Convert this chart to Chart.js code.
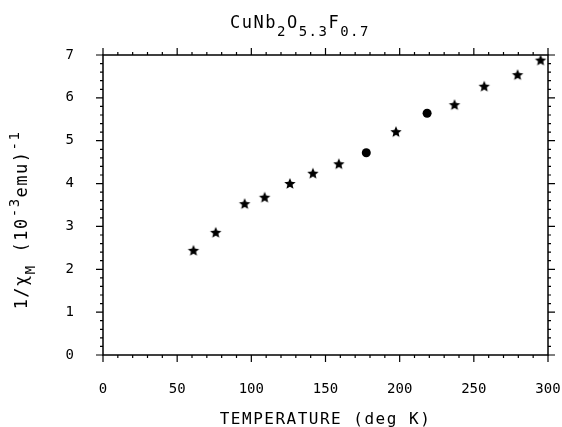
<!DOCTYPE html>
<html>
<head>
<meta charset="utf-8">
<script src="https://cdn.jsdelivr.net/npm/chart.js@4"></script>
<style>
  html, body { margin: 0; padding: 0; background: #fff; }
  canvas { display: block; }
</style>
</head>
<body>
<canvas id="myChart" width="562" height="427"></canvas>
<script>
// values
const temperature = [61, 76, 95.5, 109, 126, 141.5, 159, 177.5, 197.5, 218.5, 237, 257, 279.5, 295];
const invChi = [2.43, 2.85, 3.52, 3.67, 3.99, 4.23, 4.45, 4.72, 5.20, 5.64, 5.83, 6.26, 6.53, 6.87];
const markers = ['star', 'star', 'star', 'star', 'star', 'star', 'star', 'circle', 'star', 'circle', 'star', 'star', 'star', 'star'];
const xTicks = [0, 50, 100, 150, 200, 250, 300];
const yTicks = [0, 1, 2, 3, 4, 5, 6, 7];

const MONO = '"DejaVu Sans Mono", "Liberation Mono", monospace';

// filled five point star used as marker
function makeStar(r) {
  const c = document.createElement('canvas');
  c.width = c.height = r * 2 + 2;
  const g = c.getContext('2d');
  g.fillStyle = '#000';
  g.beginPath();
  for (let i = 0; i < 10; i++) {
    const rad = i % 2 === 0 ? r : r * 0.45;
    const a = -Math.PI / 2 + i * Math.PI / 5;
    const px = r + 1 + rad * Math.cos(a), py = r + 1 + rad * Math.sin(a);
    if (i === 0) g.moveTo(px, py); else g.lineTo(px, py);
  }
  g.closePath();
  g.fill();
  return c;
}
const star = makeStar(6);

// text made of normal / sub / sup pieces
function drawRich(g, parts, x, y, size, rotate) {
  g.save();
  g.translate(x, y);
  if (rotate) g.rotate(-Math.PI / 2);
  g.fillStyle = '#000';
  g.textBaseline = 'alphabetic';
  g.letterSpacing = '1.5px';
  let w = 0;
  parts.forEach(p => {
    g.font = (p[1] === 'n' ? size : Math.round(size * 0.8)) + 'px ' + MONO;
    w += g.measureText(p[0]).width;
  });
  let cx = -w / 2;
  parts.forEach(p => {
    g.font = (p[1] === 'n' ? size : Math.round(size * 0.8)) + 'px ' + MONO;
    const dy = p[1] === 'sub' ? size * 0.45 : p[1] === 'sup' ? -size * 0.45 : 0;
    g.textAlign = 'left';
    g.fillText(p[0], cx, dy);
    cx += g.measureText(p[0]).width;
  });
  g.restore();
}

const framePlugin = {
  id: 'frame',
  afterDraw(chart) {
    const g = chart.ctx;
    const a = chart.chartArea;
    const xs = chart.scales.x, ys = chart.scales.y;
    g.save();
    g.strokeStyle = '#000';
    g.lineWidth = 1.5;
    g.strokeRect(a.left, a.top, a.right - a.left, a.bottom - a.top);
    g.lineWidth = 1.2;
    g.beginPath();
    for (let v = 0; v <= 300; v += 10) {
      const px = xs.getPixelForValue(v);
      const len = v % 50 === 0 ? 7 : 3;
      g.moveTo(px, a.bottom); g.lineTo(px, a.bottom + len);
      g.moveTo(px, a.top); g.lineTo(px, a.top - len);
    }
    for (let i = 0; i <= 35; i++) {
      const py = ys.getPixelForValue(i / 5);
      const len = i % 5 === 0 ? 7 : 3;
      g.moveTo(a.left, py); g.lineTo(a.left - len, py);
      g.moveTo(a.right, py); g.lineTo(a.right + len, py);
    }
    g.stroke();
    g.restore();

    drawRich(g, [['CuNb', 'n'], ['2', 'sub'], ['O', 'n'], ['5.3', 'sub'], ['F', 'n'], ['0.7', 'sub']], 300, 28, 17, false);
    drawRich(g, [['TEMPERATURE (deg K)', 'n']], (a.left + a.right) / 2, 424, 16, false);
    drawRich(g, [['1/\u03C7', 'n'], ['M', 'sub'], [' (10', 'n'], ['-3', 'sup'], ['emu)', 'n'], ['-1', 'sup']], 27, 220, 17, true);
  }
};

const ctx = document.getElementById('myChart');

new Chart(ctx, {
  type: 'scatter',
  data: {
    datasets: [{
      data: temperature.map((t, i) => ({ x: t, y: invChi[i] })),
      pointStyle: markers.map(m => m === 'star' ? star : 'circle'),
      pointRadius: 4.5,
      pointHoverRadius: 4.5,
      backgroundColor: '#000',
      borderColor: '#000',
      borderWidth: 0
    }]
  },
  options: {
    responsive: false,
    animation: false,
    layout: { padding: { top: 55, right: 14, left: 0, bottom: 0 } },
    plugins: {
      legend: { display: false },
      tooltip: { enabled: false }
    },
    scales: {
      x: {
        type: 'linear',
        min: xTicks[0],
        max: xTicks[xTicks.length - 1],
        afterBuildTicks: s => { s.ticks = xTicks.map(v => ({ value: v })); },
        afterFit: s => { s.height = 72; s.paddingLeft = 0; s.paddingRight = 0; },
        grid: { display: false, drawTicks: false },
        border: { display: false },
        ticks: { color: '#000', padding: 26, font: { family: MONO, size: 14 } }
      },
      y: {
        type: 'linear',
        min: yTicks[0],
        max: yTicks[yTicks.length - 1],
        afterBuildTicks: s => { s.ticks = yTicks.map(v => ({ value: v })); },
        afterFit: s => { s.width = 103; s.paddingTop = 0; s.paddingBottom = 0; },
        grid: { display: false, drawTicks: false },
        border: { display: false },
        ticks: { color: '#000', padding: 29, font: { family: MONO, size: 14 } }
      }
    }
  },
  plugins: [framePlugin]
});
</script>
</body>
</html>
